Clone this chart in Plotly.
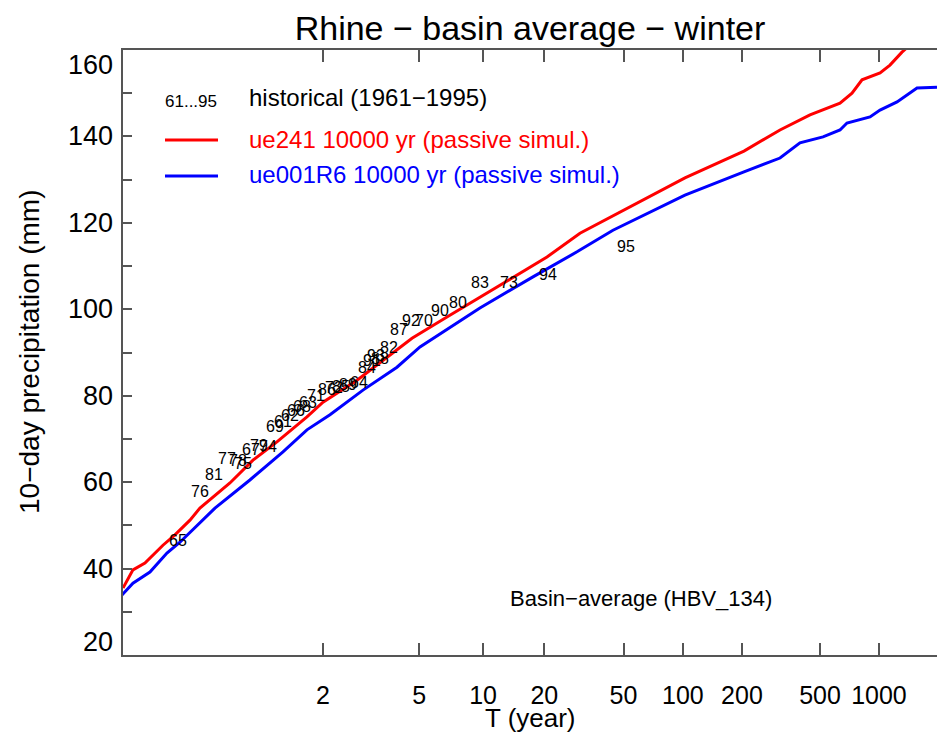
import numpy as np
import plotly.graph_objects as go

# ---------------- data (x = Gumbel reduced variate, y = 10-day precipitation, mm) -------------
red_u = [-1.986, -1.869, -1.728, -1.516, -1.375, -1.198, -1.081, -0.728, -0.457, -0.175,
         0.178, 0.367, 0.767, 1.155, 1.414, 1.825, 2.213, 2.684, 3.002, 3.390,
         3.931, 4.625, 5.319, 5.743, 6.096, 6.449, 6.590, 6.708, 6.920, 7.037,
         7.178, 7.273]
red_v = [35.5, 39.7, 41.3, 45.4, 47.8, 51.2, 54.0, 59.8, 65.1, 69.3,
         75.1, 78.5, 83.6, 89.4, 93.3, 98.2, 102.8, 108.4, 112.1, 117.6,
         123.2, 130.4, 136.6, 141.5, 145.0, 147.7, 150.0, 153.1, 154.7, 156.5,
         159.5, 161.2]

blue_u = [-1.998, -1.869, -1.669, -1.469, -1.316, -1.046, -0.904, -0.493, -0.104, 0.178,
          0.449, 0.837, 1.237, 1.508, 2.213, 2.837, 3.355, 3.778, 4.214, 4.625,
          5.319, 5.743, 5.978, 6.249, 6.449, 6.531, 6.802, 6.920, 7.120, 7.355,
          7.590]
blue_v = [33.9, 36.6, 39.2, 43.6, 46.1, 51.2, 54.0, 60.5, 67.0, 72.1,
          75.6, 81.3, 86.6, 91.3, 100.3, 107.5, 113.3, 118.3, 122.5, 126.4,
          131.8, 135.0, 138.5, 139.9, 141.5, 143.1, 144.5, 146.1, 148.0, 151.2,
          151.4]

hist_years = ["65", "76", "81", "77", "78", "75", "67", "79", "74", "69",
              "61", "62", "66", "68", "63", "71", "86", "72", "85", "89",
              "64", "84", "91", "93", "88", "82", "87", "92", "70", "90",
              "80", "83", "73", "94", "95"]
hist_u = [-1.339, -1.081, -0.916, -0.763, -0.634, -0.575, -0.481, -0.386, -0.281, -0.198,
          -0.104, -0.022, 0.049, 0.119, 0.190, 0.284, 0.414, 0.496, 0.578, 0.661,
          0.790, 0.884, 0.943, 0.990, 1.037, 1.143, 1.261, 1.402, 1.555, 1.743,
          1.955, 2.214, 2.555, 3.014, 3.931]
hist_v = [46.1, 57.5, 61.4, 65.1, 64.7, 64.0, 67.2, 68.1, 67.9, 72.5,
          73.7, 75.1, 76.2, 77.1, 78.1, 79.7, 81.1, 81.5, 81.8, 82.2,
          82.7, 86.2, 87.8, 89.0, 88.3, 90.8, 95.0, 97.1, 97.1, 99.4,
          101.2, 105.8, 105.8, 107.7, 114.2]

x_tick_T = [2, 5, 10, 20, 50, 100, 200, 500, 1000]
y_tick_vals = [20, 30, 40, 50, 60, 70, 80, 90, 100, 110, 120, 130, 140, 150, 160]
y_label_vals = [20, 40, 60, 80, 100, 120, 140, 160]
x_range = [-1.986, 7.59]
y_range = [20, 160]

FONT = "Liberation Sans, Arial, sans-serif"
NARROW = "Liberation Sans Narrow, Liberation Sans, Arial, sans-serif"
AX = "#555555"


def gumbel(T):
    T = np.asarray(T, dtype=float)
    return -np.log(-np.log(1.0 - 1.0 / T))


fig = go.Figure()
fig.add_trace(go.Scatter(x=red_u, y=red_v, mode="lines",
                         line=dict(color="#ff0000", width=3), showlegend=False))
fig.add_trace(go.Scatter(x=blue_u, y=blue_v, mode="lines",
                         line=dict(color="#0000ff", width=3), showlegend=False))
fig.add_trace(go.Scatter(x=hist_u, y=hist_v, mode="text", text=hist_years,
                         textposition="middle center",
                         textfont=dict(family=FONT, size=16, color="black"),
                         showlegend=False))

W, H = 937, 733
L, R, T, B = 123, 0, 50, 78
pw, ph = W - L - R, H - T - B


def px(xp):
    return (xp - L) / pw


def py(yp):
    return (H - B - yp) / ph


def note(x, y, text, size, color="black", xa="left", ya="middle", family=FONT, **kw):
    d = dict(x=px(x), y=py(y), xref="paper", yref="paper", xanchor=xa, yanchor=ya,
             text=text, showarrow=False, font=dict(family=family, size=size, color=color))
    d.update(kw)
    return d


ann = [
    note(191, 101, "61...95", 17, xa="center"),
    note(247, 97, "historical (1961\u22121995)", 24),
    note(247, 139, "ue241 10000 yr (passive simul.)", 24, color="#ff0000"),
    note(247, 174, "ue001R6 10000 yr (passive simul.)", 24, color="#0000ff"),
    note(641, 598, "Basin\u2212average (HBV_134)", 22, xa="center"),
    note(530, 718, "T (year)", 26, xa="center", family=NARROW),
    note(29, 352, "10\u2212day precipitation (mm)", 28, xa="center", textangle=-90),
]
# y-axis value labels (end labels kept inside the frame as in the original)
for v in y_label_vals:
    if v == y_range[1]:
        ya, ys = "top", 2
    elif v == y_range[0]:
        ya, ys = "bottom", -4
    else:
        ya, ys = "middle", 0
    ann.append(dict(x=0, y=v, xref="paper", yref="y", xanchor="right", yanchor=ya,
                    xshift=-8, yshift=ys, text=str(v), showarrow=False,
                    font=dict(family=FONT, size=27, color="black")))

shapes = [
    dict(type="line", xref="paper", yref="paper", x0=px(165), x1=px(218), y0=py(140), y1=py(140),
         line=dict(color="#ff0000", width=3)),
    dict(type="line", xref="paper", yref="paper", x0=px(165), x1=px(218), y0=py(176), y1=py(176),
         line=dict(color="#0000ff", width=3)),
]

fig.update_layout(
    width=W, height=H,
    margin=dict(l=L, r=R, t=T, b=B, pad=0),
    paper_bgcolor="white", plot_bgcolor="white",
    title=dict(text="Rhine \u2212 basin average \u2212 winter", x=0.5, xref="paper",
               y=1 - 28 / H, yref="container", xanchor="center", yanchor="middle",
               font=dict(family=FONT, size=34, color="black")),
    annotations=ann, shapes=shapes,
    showlegend=False,
)
fig.update_xaxes(range=x_range, tickmode="array", tickvals=gumbel(x_tick_T),
                 ticktext=[str(t) for t in x_tick_T], ticks="inside", ticklen=12,
                 tickwidth=1.5, tickcolor=AX, showline=True, linecolor=AX, linewidth=1.5,
                 mirror="ticks", showgrid=False, zeroline=False,
                 tickfont=dict(family=NARROW, size=25, color="black"),
                 ticklabelstandoff=17)
fig.update_yaxes(range=y_range, tickmode="array", tickvals=y_tick_vals,
                 showticklabels=False,
                 ticks="inside", ticklen=9, tickwidth=1.5, tickcolor=AX,
                 showline=True, linecolor=AX, linewidth=1.5, mirror=False,
                 showgrid=False, zeroline=False)

fig.write_html("out.html")
